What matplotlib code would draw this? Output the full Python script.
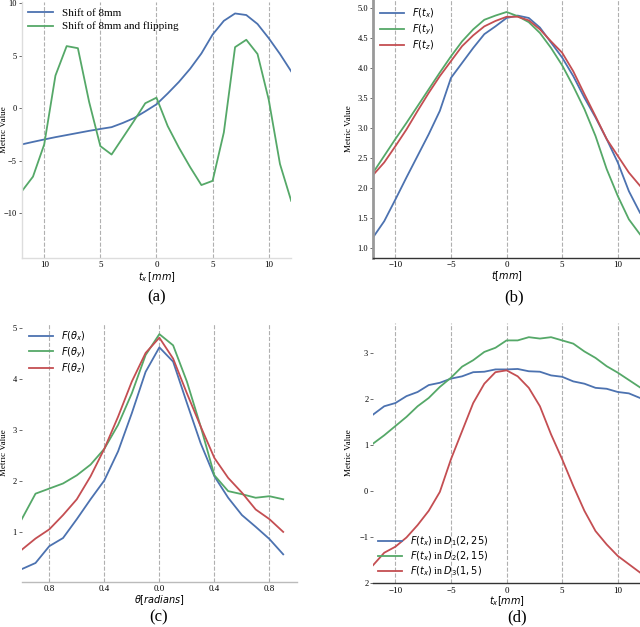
import numpy as np
import matplotlib as mpl
mpl.use('Agg')
import matplotlib.pyplot as plt

# panel (a): shift of 8mm
a_x = np.arange(-12, 13)
a_shift = [-3.44, -3.2, -2.97, -2.75, -2.55, -2.35, -2.15, -1.97, -1.8, -1.4, -0.94, -0.3,
           0.37, 1.4, 2.5, 3.75, 5.2, 7.0, 8.3, 9.0, 8.85, 8.0, 6.65, 5.15, 3.5]
a_flip = [-7.9, -6.5, -3.44, 3.1, 5.9, 5.7, 0.6, -3.6, -4.4, -2.8, -1.2, 0.47,
          1.0, -1.7, -3.75, -5.6, -7.3, -6.9, -2.3, 5.8, 6.5, 5.15, 0.8, -5.3, -8.8]
a_xticks = [-10, -5, 0, 5, 10]
a_xticklabels = ['10', '5', '0', '5', '10']
a_yticks = [-10, -5, 0, 5, 10]

# panel (b): translations
b_x = np.arange(-12, 13)
b_tx = [1.17, 1.44, 1.8, 2.17, 2.53, 2.89, 3.28, 3.83, 4.08, 4.33, 4.56, 4.69, 4.83,
        4.87, 4.83, 4.67, 4.42, 4.17, 3.86, 3.5, 3.17, 2.81, 2.42, 1.94, 1.58]
b_ty = [2.25, 2.53, 2.81, 3.08, 3.36, 3.64, 3.92, 4.19, 4.44, 4.64, 4.8, 4.87, 4.93,
        4.86, 4.76, 4.58, 4.33, 4.04, 3.69, 3.31, 2.86, 2.31, 1.86, 1.47, 1.22]
b_tz = [2.21, 2.42, 2.69, 2.97, 3.28, 3.58, 3.86, 4.11, 4.36, 4.54, 4.69, 4.78, 4.85,
        4.85, 4.79, 4.64, 4.44, 4.25, 3.94, 3.56, 3.19, 2.81, 2.53, 2.25, 2.03]
b_yticks = [1.0, 1.5, 2.0, 2.5, 3.0, 3.5, 4.0, 4.5, 5.0]

# panel (c): rotations
c_x = np.round(np.arange(-1.0, 0.95, 0.1), 1)
c_rx = [0.27, 0.39, 0.72, 0.88, 1.25, 1.64, 2.01, 2.58, 3.33, 4.14, 4.62,
        4.34, 3.53, 2.74, 2.09, 1.67, 1.33, 1.1, 0.86, 0.56]
c_ry = [1.25, 1.75, 1.85, 1.95, 2.11, 2.32, 2.63, 3.1, 3.72, 4.47, 4.88,
        4.66, 3.95, 3.07, 2.11, 1.8, 1.74, 1.67, 1.7, 1.64]
c_rz = [0.65, 0.87, 1.05, 1.33, 1.64, 2.09, 2.63, 3.26, 3.95, 4.51, 4.81,
        4.4, 3.72, 3.07, 2.45, 2.06, 1.77, 1.44, 1.25, 1.0]
c_xticks = [-0.8, -0.4, 0.0, 0.4, 0.8]
c_xticklabels = ['0.8', '0.4', '0.0', '0.4', '0.8']
c_yticks = [1, 2, 3, 4, 5]

# panel (d): datasets
d_x = np.arange(-12, 13)
d_d1 = [1.66, 1.84, 1.91, 2.06, 2.15, 2.3, 2.35, 2.44, 2.49, 2.58, 2.59, 2.64, 2.64,
        2.65, 2.6, 2.59, 2.51, 2.48, 2.38, 2.33, 2.24, 2.22, 2.15, 2.12, 2.02]
d_d2 = [1.03, 1.21, 1.41, 1.61, 1.84, 2.02, 2.26, 2.46, 2.7, 2.84, 3.02, 3.11, 3.27,
        3.27, 3.34, 3.31, 3.34, 3.27, 3.2, 3.03, 2.89, 2.71, 2.57, 2.41, 2.25]
d_d3 = [-1.61, -1.34, -1.21, -1.01, -0.74, -0.43, -0.02, 0.69, 1.3, 1.91, 2.33, 2.58, 2.62,
        2.49, 2.24, 1.84, 1.23, 0.69, 0.11, -0.43, -0.87, -1.16, -1.41, -1.59, -1.77]
d_yticks = [-2, -1, 0, 1, 2, 3]
d_yticklabels = ['2', '\u22121', '0', '1', '2', '3']

blue, green, red = '#4C72B0', '#55A868', '#C44E52'

plt.rcParams['font.family'] = 'Liberation Serif'
plt.rcParams['mathtext.fontset'] = 'dejavusans'

fig = plt.figure(figsize=(6.4, 6.27), dpi=100)

def style(ax, left_spine, bottom_spine):
    for s in ['top', 'right', 'left', 'bottom']:
        ax.spines[s].set_visible(False)
    if left_spine:
        ax.spines['left'].set_visible(True)
        ax.spines['left'].set_color(left_spine[0])
        ax.spines['left'].set_linewidth(left_spine[1])
    if bottom_spine:
        ax.spines['bottom'].set_visible(True)
        ax.spines['bottom'].set_color(bottom_spine[0])
        ax.spines['bottom'].set_linewidth(bottom_spine[1])
    ax.xaxis.grid(True, linestyle='--', color='#b0b0b0', linewidth=0.8, zorder=0)
    ax.yaxis.grid(False)
    ax.tick_params(axis='y', labelsize=6, length=2, width=0.6, color='#555555', pad=1.5)
    ax.tick_params(axis='x', labelsize=6.5, length=0, pad=2.5)
    ax.set_facecolor('white')

# (a)
ax = fig.add_axes([0.034, 0.589, 0.421, 0.408])
ax.plot(a_x, a_shift, color=blue, lw=1.3, label='Shift of 8mm')
ax.plot(a_x, a_flip, color=green, lw=1.3, label='Shift of 8mm and flipping')
ax.set_xlim(-12, 12)
ax.set_ylim(-14.2, 10.1)
ax.set_xticks(a_xticks)
ax.set_xticklabels(a_xticklabels)
ax.set_yticks(a_yticks)
ax.set_xlabel('$t_x\\,[mm]$', fontsize=7, labelpad=1)
ax.set_ylabel('Metric Value', fontsize=6.5)
ax.yaxis.set_label_coords(-0.052, 0.5)
style(ax, ('#dddddd', 1.0), ('#dddddd', 1.0))
ax.legend(loc='upper left', frameon=False, fontsize=8, handlelength=2.2,
          borderaxespad=0.2, labelspacing=0.3)
fig.text(0.245, 0.525, '(a)', fontsize=12, ha='center', va='center')

# (b)
ax = fig.add_axes([0.583, 0.589, 0.417, 0.411])
ax.plot(b_x, b_tx, color=blue, lw=1.3, label='$F(t_x)$')
ax.plot(b_x, b_ty, color=green, lw=1.3, label='$F(t_y)$')
ax.plot(b_x, b_tz, color=red, lw=1.3, label='$F(t_z)$')
ax.set_xlim(-12, 12)
ax.set_ylim(0.83, 5.13)
ax.set_yticks(b_yticks)
ax.set_xlabel('$t[mm]$', fontsize=7, labelpad=0)
ax.set_ylabel('Metric Value', fontsize=6.5)
ax.yaxis.set_label_coords(-0.075, 0.5)
style(ax, ('#999999', 2.0), ('#333333', 1.0))
ax.legend(loc='upper left', frameon=False, fontsize=7, handlelength=2.5,
          borderaxespad=0.3, labelspacing=0.2)
fig.text(0.803, 0.525, '(b)', fontsize=12, ha='center', va='center')

# (c)
ax = fig.add_axes([0.034, 0.072, 0.430, 0.413])
ax.plot(c_x, c_rx, color=blue, lw=1.3, label='$F(\\theta_x)$')
ax.plot(c_x, c_ry, color=green, lw=1.3, label='$F(\\theta_y)$')
ax.plot(c_x, c_rz, color=red, lw=1.3, label='$F(\\theta_z)$')
ax.set_xlim(-1.0, 1.0)
ax.set_ylim(0.02, 5.1)
ax.set_xticks(c_xticks)
ax.set_xticklabels(c_xticklabels)
ax.set_yticks(c_yticks)
ax.set_xlabel('$\\theta[radians]$', fontsize=7, labelpad=0)
ax.set_ylabel('Metric Value', fontsize=6.5)
ax.yaxis.set_label_coords(-0.05, 0.5)
style(ax, None, ('#bbbbbb', 1.0))
ax.legend(loc='upper left', frameon=False, fontsize=7, handlelength=2.5,
          borderaxespad=0.3, labelspacing=0.2)
fig.text(0.248, 0.015, '(c)', fontsize=12, ha='center', va='center')

# (d)
ax = fig.add_axes([0.583, 0.070, 0.417, 0.415])
ax.plot(d_x, d_d1, color=blue, lw=1.3, label='$F(t_x)$ in $D_1(2,25)$')
ax.plot(d_x, d_d2, color=green, lw=1.3, label='$F(t_x)$ in $D_2(2,15)$')
ax.plot(d_x, d_d3, color=red, lw=1.3, label='$F(t_x)$ in $D_3(1,5)$')
ax.set_xlim(-12, 12)
ax.set_ylim(-2, 3.65)
ax.set_yticks(d_yticks)
ax.set_yticklabels(d_yticklabels)
ax.set_xlabel('$t_x[mm]$', fontsize=7, labelpad=0)
ax.set_ylabel('Metric Value', fontsize=6.5)
ax.yaxis.set_label_coords(-0.075, 0.5)
style(ax, None, ('#333333', 1.0))
ax.legend(loc='lower left', frameon=False, fontsize=7, handlelength=2.5,
          borderaxespad=0.1, labelspacing=0.15)
fig.text(0.808, 0.015, '(d)', fontsize=12, ha='center', va='center')

plt.savefig('out.png', dpi=100)
